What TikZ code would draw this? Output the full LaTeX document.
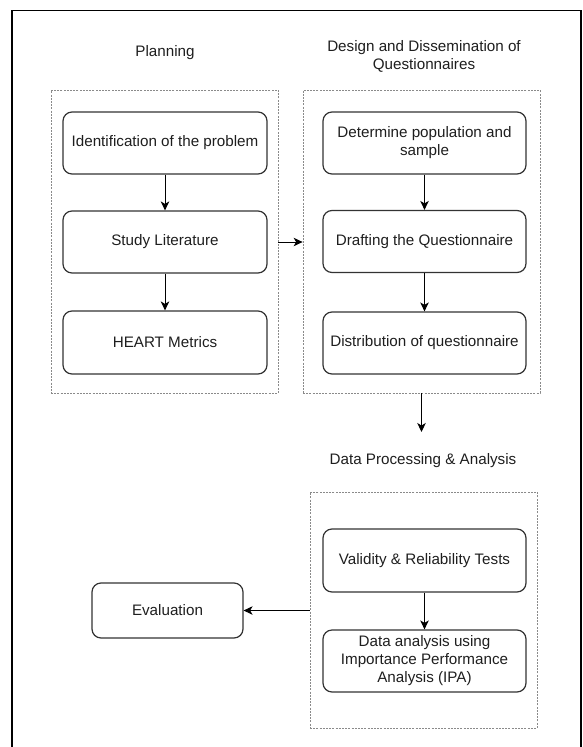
\documentclass[tikz,border=0pt]{standalone}
\usepackage{fontspec}
\setmainfont{Liberation Sans}
\usetikzlibrary{arrows.meta}
\definecolor{boxline}{HTML}{333333}
\definecolor{grpline}{HTML}{8A8A8A}
\definecolor{txt}{HTML}{1E1E1E}
\tikzset{
  every node/.style={font=\fontsize{15.2}{18}\selectfont, text=txt},
  stepbox/.style={draw=boxline, line width=1.2pt, rounded corners=9pt, minimum width=203pt, minimum height=62pt, align=center, inner sep=2pt},
  groupbox/.style={draw=grpline, line width=0.8pt, dash pattern=on 2pt off 1.2pt, inner sep=0pt},
  arr/.style={draw=black, line width=1pt, -{Stealth[length=9pt,width=8.5pt,inset=2.5pt]}},
  title/.style={align=center}
}
\begin{document}
\begin{tikzpicture}[x=1pt,y=-1pt]
\useasboundingbox (0,0) rectangle (582,747);
% outer frame
\draw[line width=1.5pt, black] (12,760) -- (12,10.5) -- (581,10.5) -- (581,760);
% group containers
\node[groupbox, minimum width=227pt, minimum height=303pt] (P) at (164.5,241.5) {};
\node[groupbox, minimum width=237pt, minimum height=303pt] (D) at (421.5,241.5) {};
\node[groupbox, minimum width=227pt, minimum height=236pt] (A) at (423.5,610) {};
% titles
\node[title] (tP) at (165,53) {Planning};
\node[title] (tD) at (424,56) {Design and Dissemination of\\Questionnaires};
\node[title] (tA) at (423,461) {Data Processing \& Analysis};
% planning boxes
\node[stepbox, minimum width=204pt] (b1) at (165,143) {Identification of the problem};
\node[stepbox, minimum width=204pt] (b2) at (165,242) {Study Literature};
\node[stepbox, minimum width=204pt, minimum height=63pt] (b3) at (165,342.5) {HEART Metrics};
% design boxes
\node[stepbox] (d1) at (424.5,143) {Determine population and\\sample};
\node[stepbox] (d2) at (424.5,241.5) {Drafting the Questionnaire};
\node[stepbox] (d3) at (424.5,343) {Distribution of questionnaire};
% analysis boxes
\node[stepbox, minimum height=63pt] (a1) at (424.5,560.5) {Validity \& Reliability Tests};
\node[stepbox] (a2) at (424.5,661) {Data analysis using\\Importance Performance\\Analysis (IPA)};
\node[stepbox, minimum width=151pt, minimum height=55pt] (ev) at (167.5,610.5) {Evaluation};
% connectors
\draw[arr] (b1.south) -- (b2.north);
\draw[arr] (b2.south) -- (b3.north);
\draw[arr] (d1.south) -- (d2.north);
\draw[arr] (d2.south) -- (d3.north);
\draw[arr] (a1.south) -- (a2.north);
\draw[arr] (b2.east -| P.east) -- (b2.east -| D.west);
\coordinate (dend) at (421.5,432);
\draw[arr] (D.south) -- (dend);
\draw[arr] (A.west |- ev.east) -- (ev.east);
\end{tikzpicture}
\end{document}
